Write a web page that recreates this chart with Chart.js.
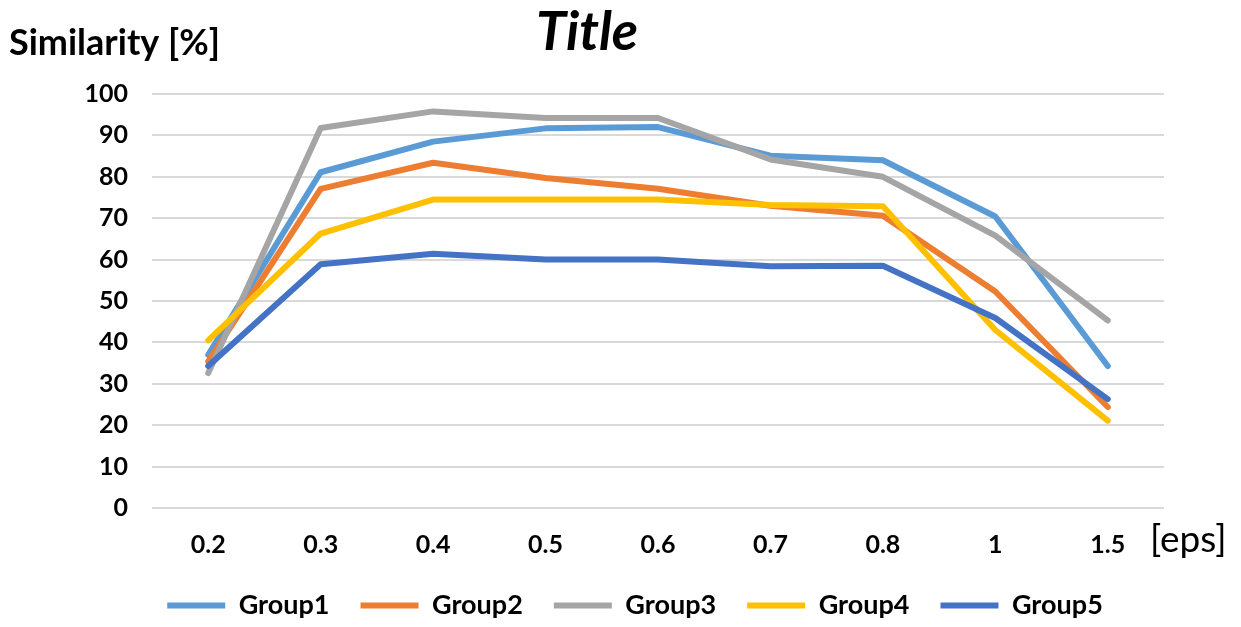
<!DOCTYPE html>
<html>
<head>
<meta charset="utf-8">
<script src="https://cdn.jsdelivr.net/npm/chart.js@4/dist/chart.umd.min.js"></script>
<style>
  html, body { margin: 0; padding: 0; background: #fff; }
  #wrap { width: 1241px; height: 627px; position: relative; }
</style>
</head>
<body>
<div id="wrap"><canvas id="chart" width="1241" height="627"></canvas></div>
<script>
// eps values on the x axis
const categories = ['0.2', '0.3', '0.4', '0.5', '0.6', '0.7', '0.8', '1', '1.5'];

// similarity in percent for each group
const group1 = [37.0, 81.1, 88.5, 91.7, 92.0, 85.1, 84.0, 70.4, 34.3];
const group2 = [35.4, 77.1, 83.4, 79.7, 77.1, 73.0, 70.6, 52.3, 24.4];
const group3 = [32.6, 91.8, 95.8, 94.2, 94.2, 84.2, 80.0, 65.8, 45.3];
const group4 = [40.5, 66.3, 74.5, 74.5, 74.5, 73.2, 72.9, 43.0, 21.1];
const group5 = [34.3, 58.9, 61.4, 60.0, 60.0, 58.4, 58.5, 45.9, 26.3];

const seriesNames = ['Group1', 'Group2', 'Group3', 'Group4', 'Group5'];
const seriesValues = [group1, group2, group3, group4, group5];
const seriesColors = ['#5B9BD5', '#ED7D31', '#A5A5A5', '#FFC000', '#4472C4'];

const FONT = 'Lato, "Open Sans", sans-serif';

const datasets = seriesNames.map((name, i) => ({
  label: name,
  data: seriesValues[i],
  borderColor: seriesColors[i],
  backgroundColor: seriesColors[i],
  borderWidth: 6,
  borderCapStyle: 'round',
  borderJoinStyle: 'round',
  pointRadius: 0,
  pointHoverRadius: 0,
  tension: 0,
  fill: false,
  // later groups are painted above earlier ones
  order: seriesNames.length - i
}));

// Title and axis captions drawn as canvas text
const captions = {
  id: 'captions',
  afterDraw(chart) {
    const ctx = chart.ctx;
    const area = chart.chartArea;
    ctx.save();
    ctx.fillStyle = '#000';
    ctx.textBaseline = 'middle';

    ctx.font = 'italic bold 54px ' + FONT;
    ctx.textAlign = 'center';
    ctx.fillText('Title', 587, 33);

    ctx.font = 'bold 36px ' + FONT;
    ctx.textAlign = 'left';
    ctx.fillText('Similarity [%]', 9, 43);

    ctx.font = '37px ' + FONT;
    ctx.textAlign = 'left';
    ctx.fillText('[eps]', area.right - 14, 540);
    ctx.restore();
  }
};

// keep the legend row compact and place it under the plot
const LEGEND_HEIGHT = 59;
const legendFit = {
  id: 'legendFit',
  beforeLayout(chart) {
    const lg = chart.legend;
    if (lg && !lg._compactFit) {
      const fit = lg.fit.bind(lg);
      lg.fit = function () {
        fit();
        this.height = LEGEND_HEIGHT;
      };
      lg._compactFit = true;
    }
  },
  afterLayout(chart) {
    const lg = chart.legend;
    if (lg) {
      lg.left += 53;
      lg.right += 53;
      lg.top -= 7;
      lg.bottom -= 7;
    }
  }
};

new Chart(document.getElementById('chart'), {
  type: 'line',
  data: { labels: categories, datasets },
  plugins: [captions, legendFit],
  options: {
    responsive: false,
    animation: false,
    events: [],
    layout: { padding: { top: 94, right: 77, left: 0, bottom: 0 } },
    plugins: {
      title: { display: false },
      tooltip: { enabled: false },
      legend: {
        position: 'bottom',
        labels: {
          usePointStyle: true,
          pointStyle: 'line',
          pointStyleWidth: 58,
          boxHeight: 27,
          padding: 31,
          color: '#000',
          font: { family: FONT, size: 27, weight: 'bold' },
          sort: (a, b) => a.datasetIndex - b.datasetIndex
        }
      }
    },
    scales: {
      x: {
        offset: true,
        grid: { display: false, drawTicks: false },
        border: { display: false },
        ticks: {
          color: '#000',
          padding: 22,
          maxRotation: 0,
          autoSkip: false,
          font: { family: FONT, size: 25, weight: 'bold' }
        },
        afterFit(scale) { scale.height = 60; }
      },
      y: {
        min: 0,
        max: 100,
        ticks: {
          stepSize: 10,
          color: '#000',
          padding: 24,
          font: { family: FONT, size: 25, weight: 'bold' }
        },
        grid: { color: '#D9D9D9', lineWidth: 2, drawTicks: false },
        border: { display: false },
        afterFit(scale) { scale.width = 152; }
      }
    }
  }
});
</script>
</body>
</html>
